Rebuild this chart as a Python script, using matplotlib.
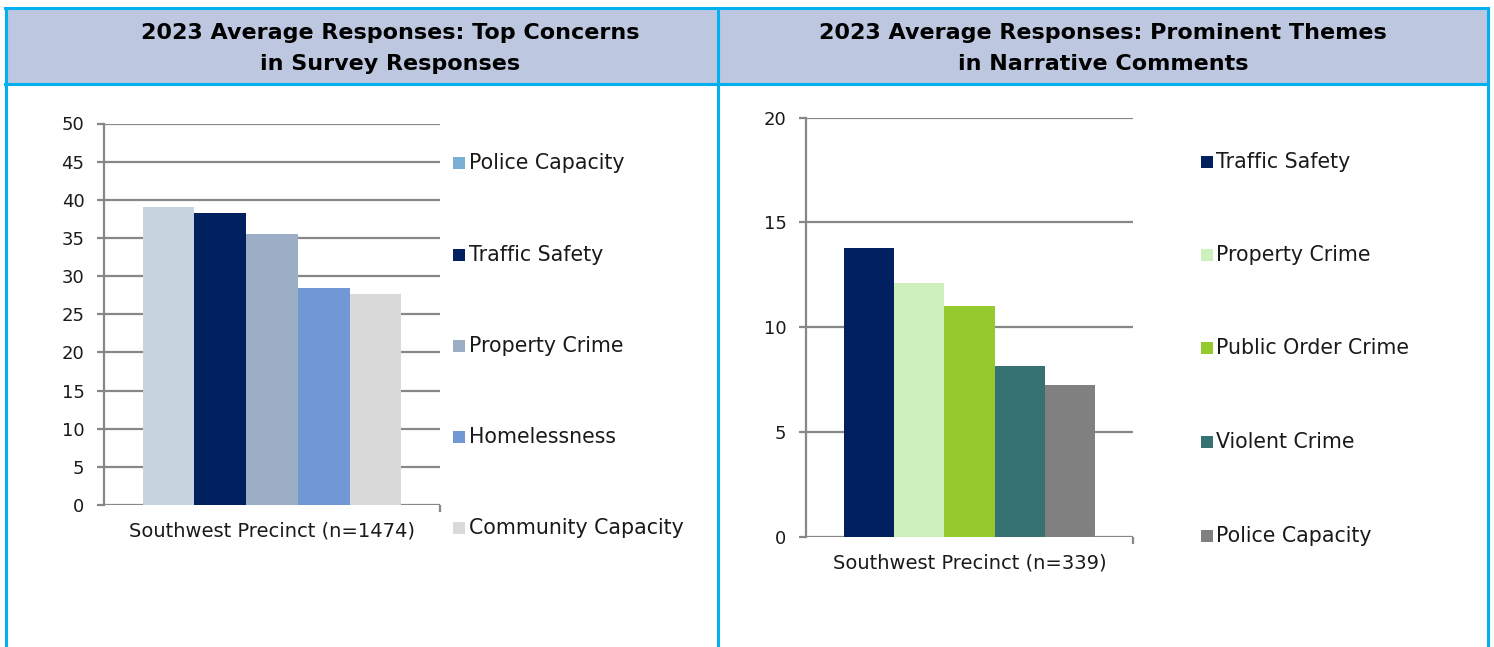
import matplotlib.pyplot as plt
from matplotlib.patches import Rectangle
from matplotlib.lines import Line2D

# data
left_labels = ['Police Capacity', 'Traffic Safety', 'Property Crime', 'Homelessness', 'Community Capacity']
left_values = [39.1, 38.3, 35.5, 28.5, 27.7]
left_bar_colors = ['#C8D3E0', '#002060', '#9BAEC6', '#7198D4', '#D9D9D9']
left_legend_colors = ['#7BAFD4', '#002060', '#9BAEC6', '#7198D4', '#D9D9D9']
left_category = 'Southwest Precinct (n=1474)'
left_title = ['2023 Average Responses: Top Concerns', 'in Survey Responses']

right_labels = ['Traffic Safety', 'Property Crime', 'Public Order Crime', 'Violent Crime', 'Police Capacity']
right_values = [13.8, 12.1, 11.0, 8.15, 7.25]
right_colors = ['#002060', '#CEF0BD', '#95CA2E', '#357271', '#808080']
right_category = 'Southwest Precinct (n=339)'
right_title = ['2023 Average Responses: Prominent Themes', 'in Narrative Comments']

W, H = 1494, 647
GRID = '#878787'
CYAN = '#00B0F0'
TXT = '#1A1A1A'

plt.rcParams['font.family'] = ['DejaVu Sans']
fig = plt.figure(figsize=(W / 100, H / 100), dpi=100)


def fx(x):
    return x / W


def fy(y):
    return 1 - y / H


# header bands and frame
fig.patches.append(Rectangle((fx(5), fy(83)), fx(1483), 75 / H, transform=fig.transFigure,
                             facecolor='#BDC7E0', edgecolor='none', zorder=0))
for xs, ys in [([5, 1488], [8, 8]), ([5, 1488], [83.5, 83.5]),
               ([5.5, 5.5], [8, 647]), ([717.5, 717.5], [8, 647]), ([1487.5, 1487.5], [8, 647])]:
    fig.add_artist(Line2D([fx(v) for v in xs], [fy(v) for v in ys], color=CYAN, lw=2.2,
                          transform=fig.transFigure))

for xc, lines in [(390, left_title), (1103, right_title)]:
    for yc, line in zip([33, 64], lines):
        fig.text(fx(xc), fy(yc), line, ha='center', va='center', fontsize=16,
                 fontweight='bold', color='black')


def bar_panel(box, values, colors, ymax, step, category):
    x0, y_top, x1, y0 = box
    ax = fig.add_axes([fx(x0), fy(y0), (x1 - x0) / W, (y0 - y_top) / H])
    n = len(values)
    w = 0.77 / n
    for i, (v, c) in enumerate(zip(values, colors)):
        ax.bar((i - (n - 1) / 2) * w, v, width=w, color=c, zorder=2)
    ax.set_xlim(-0.5, 0.5)
    ax.set_ylim(0, ymax)
    ax.set_yticks(range(0, ymax + 1, step))
    ax.yaxis.grid(True, color=GRID, lw=1.6, zorder=1)
    for s in ['top', 'right', 'bottom']:
        ax.spines[s].set_visible(False)
    ax.spines['left'].set_color(GRID)
    ax.spines['left'].set_linewidth(1.6)
    ax.tick_params(axis='y', colors=GRID, length=5, width=1.6, pad=9, labelsize=13,
                   labelcolor=TXT)
    ax.set_xticks([0], labels=[category])
    ax.tick_params(axis='x', which='major', length=0, pad=12, labelsize=14, labelcolor=TXT)
    ax.set_xticks([0.5], minor=True)
    ax.tick_params(axis='x', which='minor', length=5, width=1.6, color=GRID)
    ax.set_facecolor('none')
    return ax


bar_panel((104, 123.5, 440, 505), left_values, left_bar_colors, 50, 5, left_category)
bar_panel((806, 117.5, 1133, 537), right_values, right_colors, 20, 5, right_category)


def legend(x_sq, x_txt, ys, labels, colors):
    for y, lab, c in zip(ys, labels, colors):
        fig.patches.append(Rectangle((fx(x_sq), fy(y + 6)), 12 / W, 12 / H,
                                     transform=fig.transFigure, facecolor=c, edgecolor='none'))
        fig.text(fx(x_txt), fy(y), lab, ha='left', va='center', fontsize=14.8, color=TXT)


legend(453, 469, [163, 255, 346, 437, 528], left_labels, left_legend_colors)
legend(1201, 1216, [162, 255, 348, 442, 536], right_labels, right_colors)

fig.savefig('out.png', dpi=100, facecolor='white')
